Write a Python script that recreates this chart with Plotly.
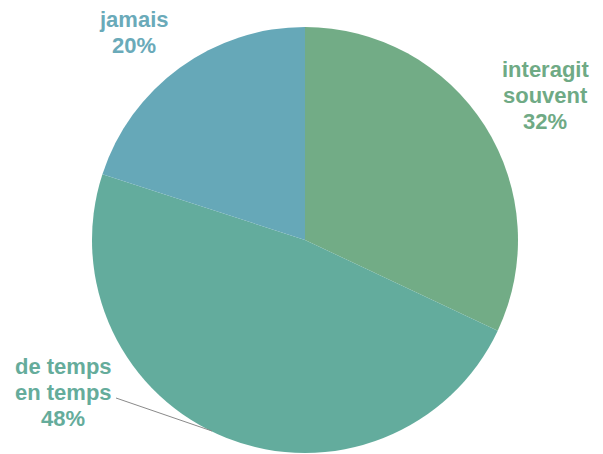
import plotly.graph_objects as go

labels = ["interagit souvent", "de temps en temps", "jamais"]
label_text = ["interagit<br>souvent", "de temps<br>en temps", "jamais"]
values = [32, 48, 20]
colors = ["#72AC86", "#63AC9D", "#66A8B8"]
text_colors = ["#6FAA85", "#65AC9B", "#6AAAB9"]

W, H = 603, 454
OFF = 8  # page body margin offset
cx, cy, r = 305 - OFF, 240 - OFF, 213
LINE = 26  # label line spacing (px)

fig = go.Figure(go.Pie(
    labels=labels, values=values, sort=False, direction="clockwise", rotation=0,
    marker=dict(colors=colors, line=dict(width=0)),
    textinfo="none", hoverinfo="label+percent", showlegend=False,
    domain=dict(x=[(cx - r) / W, (cx + r) / W], y=[(H - (cy + r)) / H, (H - (cy - r)) / H]),
))

# label placement (pixels, page coords) for each slice
label_pos = [(545, 96), (63, 392), (134, 33)]
for txt, v, col, (px, py) in zip(label_text, values, text_colors, label_pos):
    lines = txt.split("<br>") + [f"{v}%"]
    n = len(lines)
    for i, ln in enumerate(lines):
        yy = py + (i - (n - 1) / 2) * LINE
        fig.add_annotation(
            x=(px - OFF) / W, y=1 - (yy - OFF) / H, xref="paper", yref="paper",
            text=f"<b>{ln}</b>", showarrow=False, xanchor="center", yanchor="middle",
            font=dict(family="Liberation Sans, Arial, sans-serif", size=22, color=col),
            align="center",
        )

# leader line for "de temps en temps"
fig.add_shape(type="line", xref="paper", yref="paper",
              x0=(116 - OFF) / W, y0=1 - (398 - OFF) / H, x1=(212 - OFF) / W, y1=1 - (431 - OFF) / H,
              line=dict(color="#8a8a8a", width=1))

fig.update_layout(
    width=W, height=H, margin=dict(l=0, r=0, t=0, b=0),
    paper_bgcolor="white", plot_bgcolor="white",
)
fig.write_html("out.html")
